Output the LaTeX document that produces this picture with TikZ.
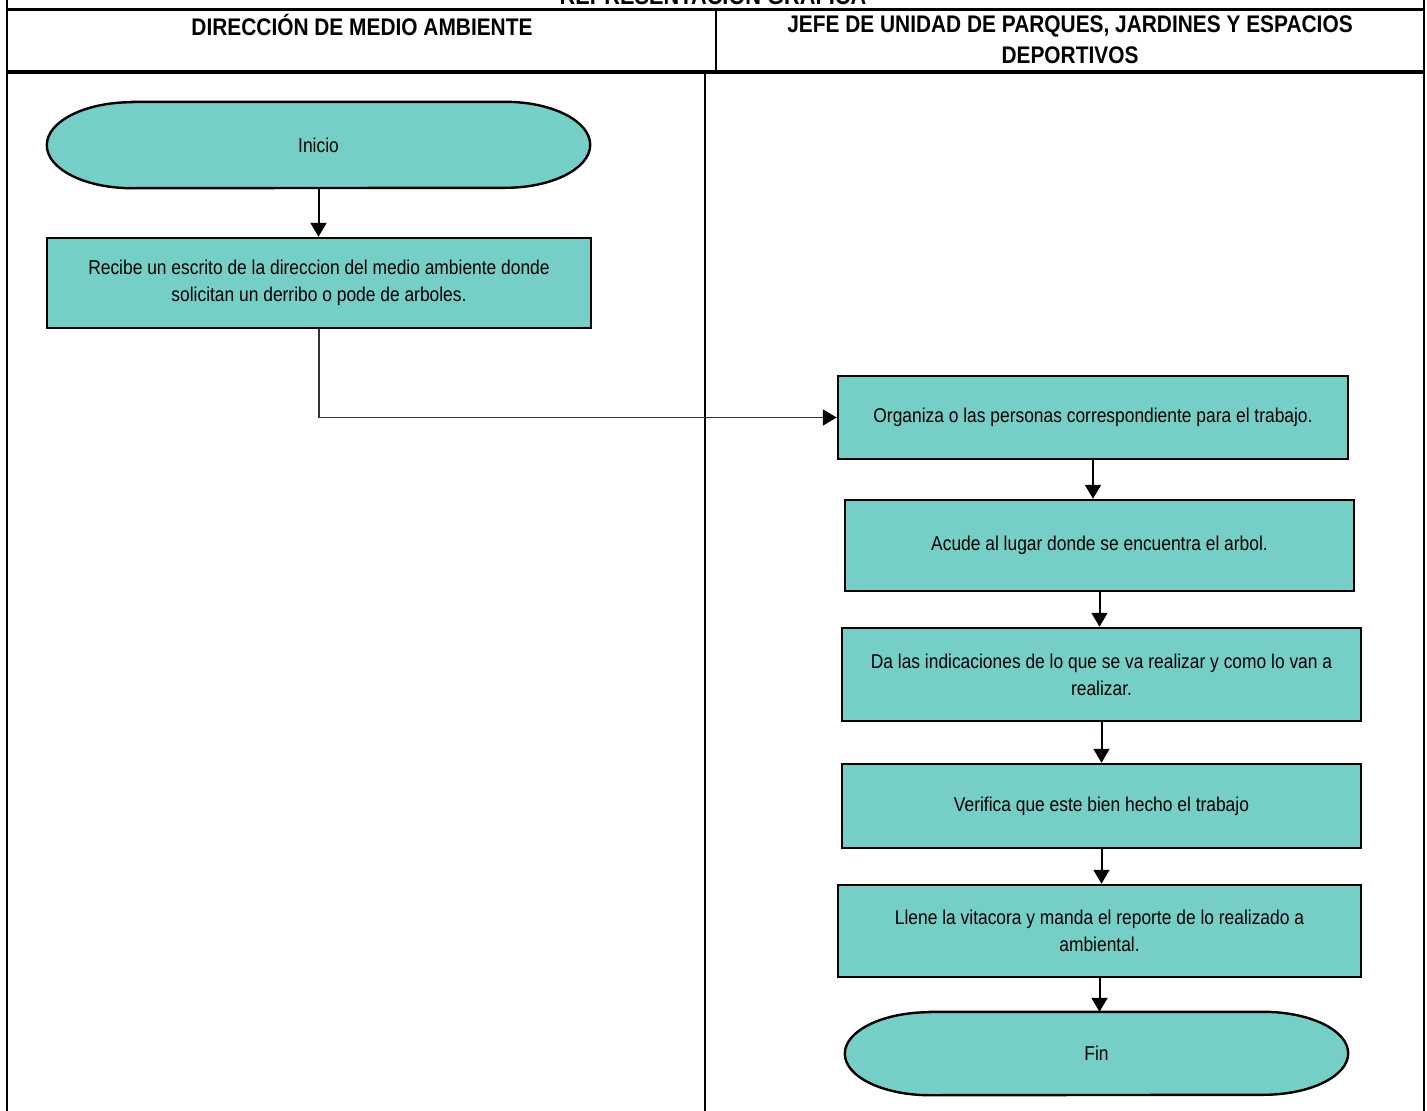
\documentclass[tikz,border=0pt]{standalone}
\usepackage{fontspec}
\setmainfont{Liberation Sans}[FakeStretch=0.87]
\usetikzlibrary{arrows.meta,backgrounds,calc}
\definecolor{tealfill}{RGB}{118,207,199}
\newcommand\termshape[2]{%
  \fill[tealfill] ($(#1.north west)+(85pt,0pt)$) -- ($(#1.north east)+(-85pt,0pt)$)
    arc[start angle=90,end angle=-90,x radius=85pt,y radius=#2] -- ($(#1.south west)+(85pt,0pt)$)
    arc[start angle=270,end angle=90,x radius=85pt,y radius=#2] -- cycle;
  \draw[line width=2.4pt] ($(#1.north west)+(85pt,0pt)$) -- ($(#1.north east)+(-85pt,0pt)$)
    arc[start angle=90,end angle=-90,x radius=85pt,y radius=#2] -- ($(#1.south west)+(85pt,0pt)$)
    arc[start angle=270,end angle=90,x radius=85pt,y radius=#2] -- cycle;}
\begin{document}
\begin{tikzpicture}[x=1pt,y=-1pt,
  bodytext/.style={font=\fontsize{20}{27}\selectfont,align=center},
  hdr/.style={font=\bfseries\fontsize{24}{31}\selectfont,align=center},
  procbox/.style={draw=black,line width=2.5pt,fill=tealfill,bodytext,inner sep=0pt},
  termnode/.style={draw=none,bodytext,inner sep=0pt},
  arr/.style={line width=2pt,-{Triangle[length=14pt,width=16pt]}},
  thinarr/.style={line width=1.5pt,draw=black!80,-{Triangle[length=14pt,width=16pt,fill=black,color=black]}},
  frame/.style={line width=2pt}]
\useasboundingbox (0,0) rectangle (1427,1111);
\clip (0,0) rectangle (1427,1111);
% frame
\draw[frame] (7,0) -- (7,1111);
\draw[frame] (1424,0) -- (1424,1111);
\draw[line width=3pt] (7,9) -- (1424,9);
\draw[line width=3.5pt] (7,72) -- (1424,72);
\draw[frame] (716,9) -- (716,72);
\draw[frame] (705,72) -- (705,1111);
% titles
\node[font=\bfseries\fontsize{25}{28}\selectfont,anchor=base] (title) at (713,4) {REPRESENTACIÓN GRÁFICA};
\node[hdr] (h1) at (362,25) {DIRECCIÓN DE MEDIO AMBIENTE};
\node[hdr] (h2) at (1070,40) {JEFE DE UNIDAD DE PARQUES, JARDINES Y ESPACIOS\\DEPORTIVOS};
% nodes
\node[termnode,minimum width=543pt,minimum height=86pt] (inicio) at (318.5,145) {Inicio};
\node[procbox,minimum width=544pt,minimum height=90pt] (b1) at (319,283) {Recibe un escrito de la direccion del medio ambiente donde\\solicitan un derribo o pode de arboles.};
\node[procbox,minimum width=510pt,minimum height=83pt] (b2) at (1093,417.5) {Organiza o las personas correspondiente para el trabajo.};
\node[procbox,minimum width=509pt,minimum height=91pt] (b3) at (1099.5,545.5) {Acude al lugar donde se encuentra el arbol.};
\node[procbox,minimum width=519pt,minimum height=93pt] (b4) at (1101.5,674.5) {Da las indicaciones de lo que se va realizar y como lo van a\\realizar.};
\node[procbox,minimum width=519pt,minimum height=84pt] (b5) at (1101.5,806) {Verifica que este bien hecho el trabajo};
\node[procbox,minimum width=523pt,minimum height=92pt] (b6) at (1099.5,931) {Llene la vitacora y manda el reporte de lo realizado a\\ambiental.};
\node[termnode,minimum width=503pt,minimum height=83pt] (fin) at (1096.5,1053.5) {Fin};
\begin{scope}[on background layer]
  \termshape{inicio}{43pt}
  \termshape{fin}{41.5pt}
\end{scope}
% connectors
\draw[arr] (inicio.south) -- (inicio.south |- b1.north);
\draw[thinarr] (b1.south) |- (b2.west);
\draw[arr] (b2.south) -- (b2.south |- b3.north);
\draw[arr] (b3.south) -- (b3.south |- b4.north);
\draw[arr] (b4.south) -- (b4.south |- b5.north);
\draw[arr] (b5.south) -- (b5.south |- b6.north);
\draw[arr] (b6.south) -- (b6.south |- fin.north);
\end{tikzpicture}
\end{document}
